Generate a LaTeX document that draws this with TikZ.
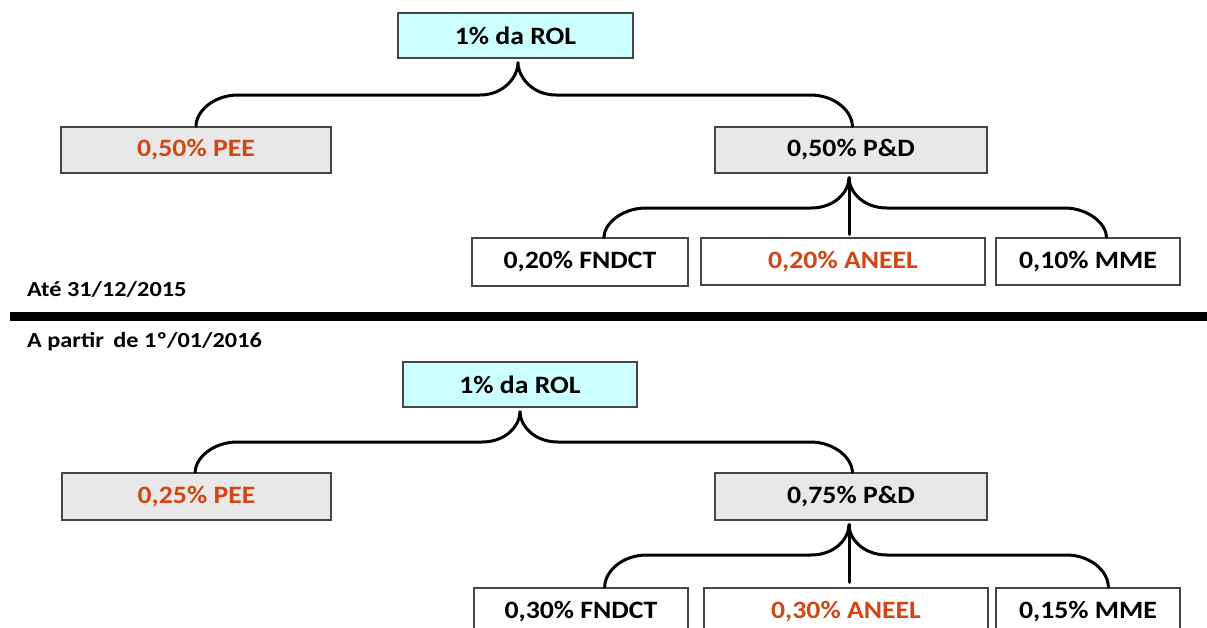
\documentclass[tikz,border=0pt]{standalone}
\usepackage{fontspec}
\setmainfont{Carlito}
\usetikzlibrary{calc}
\definecolor{cyanbox}{RGB}{204,255,255}
\definecolor{greybox}{RGB}{232,232,232}
\definecolor{edge}{RGB}{70,70,70}
\definecolor{redtxt}{RGB}{210,70,20}
\newcommand\wtxt[1]{\scalebox{1.11}[1]{#1}}
\tikzset{
  box/.style={draw=edge, line width=1.2pt, inner sep=0pt, font=\fontsize{25}{30}\selectfont\bfseries},
  rolbox/.style={box, fill=cyanbox},
  greyb/.style={box, fill=greybox},
  whiteb/.style={box, fill=white},
  brace/.style={line width=3pt, line cap=round, line join=round},
  datelbl/.style={anchor=base west, inner sep=0pt, font=\fontsize{21.5}{25}\selectfont\bfseries},
}
\begin{document}
\begin{tikzpicture}[x=1pt,y=-1pt]
\useasboundingbox (0,0) rectangle (1207,627);
% ---------- top ----------
\node[rolbox, minimum width=235pt, minimum height=45pt] (rol1) at (515.5,35.5) {\wtxt{1\% da ROL}};
\node[greyb, minimum width=270pt, minimum height=46pt, text=redtxt] (pee1) at (196,150) {\wtxt{0,50\% PEE}};
\node[greyb, minimum width=272pt, minimum height=46pt] (pd1) at (851,150) {\wtxt{0,50\% P\&D}};
\node[whiteb, minimum width=216pt, minimum height=48pt] (fn1) at (580,262) {\wtxt{0,20\% FNDCT}};
\node[whiteb, minimum width=284pt, minimum height=47pt, text=redtxt] (an1) at (843,261.5) {\wtxt{0,20\% ANEEL}};
\node[whiteb, minimum width=184pt, minimum height=47pt] (mm1) at (1088,261.5) {\wtxt{0,10\% MME}};
\node[datelbl] (lab1) at (27,296) {\scalebox{1.13}[1]{Até 31/12/2015}};
% separator
\coordinate (sepL) at (10,316.5);
\coordinate (sepR) at (1207,316.5);
\draw[line width=9pt] (sepL) -- (sepR);
\node[datelbl] (lab2) at (27,347) {\scalebox{1.13}[1]{A partir\, de 1º/01/2016}};
% ---------- bottom ----------
\node[rolbox, minimum width=234pt, minimum height=45pt] (rol2) at (520,384.5) {\wtxt{1\% da ROL}};
\node[greyb, minimum width=269pt, minimum height=47pt, text=redtxt] (pee2) at (196.5,496.5) {\wtxt{0,25\% PEE}};
\node[greyb, minimum width=272pt, minimum height=47pt] (pd2) at (851,496.5) {\wtxt{0,75\% P\&D}};
\node[whiteb, minimum width=214pt, minimum height=48pt] (fn2) at (581,612) {\wtxt{0,30\% FNDCT}};
\node[whiteb, minimum width=284pt, minimum height=48pt, text=redtxt] (an2) at (846,612) {\wtxt{0,30\% ANEEL}};
\node[whiteb, minimum width=184pt, minimum height=48pt] (mm2) at (1088,612) {\wtxt{0,15\% MME}};

% ---------- braces ----------
% brace 1: rol1 -> pee1, pd1
\coordinate (t1) at ($(rol1.south)+(2.5,4)$);
\coordinate (h1) at (0,95);
\coordinate (a1) at ($(pee1.north west)!0.5!(pee1.north east)$);
\coordinate (b1) at ($(pd1.north west)!0.505!(pd1.north east)$);
\draw[brace] (a1) .. controls ($(a1|-h1)+(0,16)$) and ($(a1|-h1)+(18,0)$) .. ($(a1|-h1)+(42,0)$)
  -- ($(t1|-h1)+(-38,0)$) .. controls ($(t1|-h1)+(-14,0)$) and ($(t1)+(0,14)$) .. (t1)
  .. controls ($(t1)+(0,14)$) and ($(t1|-h1)+(14,0)$) .. ($(t1|-h1)+(38,0)$)
  -- ($(b1|-h1)+(-42,0)$) .. controls ($(b1|-h1)+(-18,0)$) and ($(b1|-h1)+(0,16)$) .. (b1);
% brace 2: pd1 -> fn1, an1, mm1
\coordinate (t2) at ($(pd1.south)+(-2,4)$);
\coordinate (h2) at (0,208);
\coordinate (a2) at ($(fn1.north west)!0.61!(fn1.north east)$);
\coordinate (b2) at ($(mm1.north west)!0.6!(mm1.north east)$);
\draw[brace] (a2) .. controls ($(a2|-h2)+(0,16)$) and ($(a2|-h2)+(18,0)$) .. ($(a2|-h2)+(42,0)$)
  -- ($(t2|-h2)+(-38,0)$) .. controls ($(t2|-h2)+(-14,0)$) and ($(t2)+(0,14)$) .. (t2)
  .. controls ($(t2)+(0,14)$) and ($(t2|-h2)+(14,0)$) .. ($(t2|-h2)+(38,0)$)
  -- ($(b2|-h2)+(-42,0)$) .. controls ($(b2|-h2)+(-18,0)$) and ($(b2|-h2)+(0,16)$) .. (b2);
\draw[brace] (t2) -- ($(t2|-an1.north)+(0,-3)$);
% brace 3: rol2 -> pee2, pd2
\coordinate (t3) at ($(rol2.south)+(0,4)$);
\coordinate (h3) at (0,442);
\coordinate (a3) at ($(pee2.north west)!0.495!(pee2.north east)$);
\coordinate (b3) at ($(pd2.north west)!0.505!(pd2.north east)$);
\draw[brace] (a3) .. controls ($(a3|-h3)+(0,16)$) and ($(a3|-h3)+(18,0)$) .. ($(a3|-h3)+(42,0)$)
  -- ($(t3|-h3)+(-38,0)$) .. controls ($(t3|-h3)+(-14,0)$) and ($(t3)+(0,14)$) .. (t3)
  .. controls ($(t3)+(0,14)$) and ($(t3|-h3)+(14,0)$) .. ($(t3|-h3)+(38,0)$)
  -- ($(b3|-h3)+(-42,0)$) .. controls ($(b3|-h3)+(-18,0)$) and ($(b3|-h3)+(0,16)$) .. (b3);
% brace 4: pd2 -> fn2, an2, mm2
\coordinate (t4) at ($(pd2.south)+(-2,4)$);
\coordinate (h4) at (0,555);
\coordinate (a4) at ($(fn2.north west)!0.61!(fn2.north east)$);
\coordinate (b4) at ($(mm2.north west)!0.61!(mm2.north east)$);
\draw[brace] (a4) .. controls ($(a4|-h4)+(0,16)$) and ($(a4|-h4)+(18,0)$) .. ($(a4|-h4)+(42,0)$)
  -- ($(t4|-h4)+(-38,0)$) .. controls ($(t4|-h4)+(-14,0)$) and ($(t4)+(0,14)$) .. (t4)
  .. controls ($(t4)+(0,14)$) and ($(t4|-h4)+(14,0)$) .. ($(t4|-h4)+(38,0)$)
  -- ($(b4|-h4)+(-42,0)$) .. controls ($(b4|-h4)+(-18,0)$) and ($(b4|-h4)+(0,16)$) .. (b4);
\draw[brace] (t4) -- ($(t4|-an2.north)+(0,-5)$);
\end{tikzpicture}
\end{document}
